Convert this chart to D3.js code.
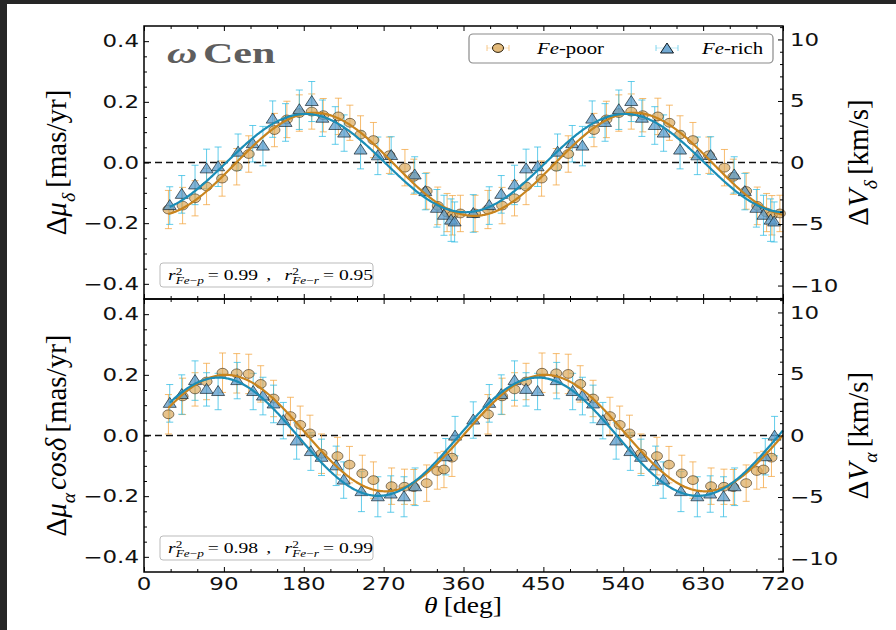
<!DOCTYPE html>
<html>
<head>
<meta charset="utf-8">
<script src="https://cdn.jsdelivr.net/npm/d3@7"></script>
<style>
  body { margin: 0; background: #fff; }
  svg { display: block; }
</style>
</head>
<body>
<svg id="chart" width="896" height="630"></svg>
<script>
// ---------- data: proper-motion residuals vs position angle (two cycles) ----------
// Upper panel: Δμ_δ  [mas/yr]
const topPoorTheta = [27.5, 43.5, 57.5, 70.5, 88, 104.5, 118, 147, 161, 175, 189, 202, 219, 232, 244, 258.5, 276.5, 294, 304, 318.5, 331, 341.5, 347.5, 356.5,
  373, 387.5, 403.5, 417.5, 430.5, 448, 464.5, 478, 507, 521, 535, 549, 562, 579, 592, 604, 618.5, 636.5, 654, 664, 678.5, 691, 701.5, 707.5, 716.5];
const topPoorVal = [-0.155, -0.142, -0.118, -0.079, -0.053, -0.014, 0.028, 0.107, 0.142, 0.163, 0.168, 0.156, 0.152, 0.131, 0.092, 0.074, 0.024, -0.017, -0.047, -0.094, -0.143, -0.165, -0.174, -0.168,
  -0.168, -0.155, -0.142, -0.118, -0.079, -0.053, -0.014, 0.028, 0.107, 0.142, 0.163, 0.168, 0.156, 0.152, 0.131, 0.092, 0.074, 0.024, -0.017, -0.047, -0.094, -0.143, -0.165, -0.174, -0.168];
const topPoorErr = [0.063, 0.060, 0.058, 0.060, 0.058, 0.060, 0.060, 0.055, 0.060, 0.060, 0.058, 0.055, 0.060, 0.058, 0.062, 0.058, 0.060, 0.060, 0.058, 0.060, 0.062, 0.063, 0.065, 0.060,
  0.060, 0.063, 0.060, 0.058, 0.060, 0.058, 0.060, 0.060, 0.055, 0.060, 0.060, 0.058, 0.055, 0.060, 0.058, 0.062, 0.058, 0.060, 0.060, 0.058, 0.060, 0.062, 0.063, 0.065, 0.060];

const topRichTheta = [29, 42.5, 57.5, 70.5, 83.5, 106, 122.5, 134, 145, 159.5, 175, 189, 201, 215.5, 225.5, 244, 263.5, 278.5, 305, 317, 330, 338, 346, 350,
  371, 389, 402.5, 417.5, 430.5, 443.5, 466, 482.5, 494, 505, 519.5, 535, 549, 561, 575.5, 585.5, 604, 623.5, 638.5, 665, 677, 690, 698, 706, 710];
const topRichVal = [-0.142, -0.105, -0.074, -0.021, -0.014, 0.034, 0.062, 0.054, 0.143, 0.132, 0.174, 0.201, 0.146, 0.122, 0.097, 0.041, 0.022, 0.023, -0.041, -0.096, -0.151, -0.174, -0.190, -0.196,
  -0.168, -0.142, -0.105, -0.074, -0.021, -0.014, 0.034, 0.062, 0.054, 0.143, 0.132, 0.174, 0.201, 0.146, 0.122, 0.097, 0.041, 0.022, 0.023, -0.041, -0.096, -0.151, -0.174, -0.190, -0.196];
const topRichErr = [0.062, 0.062, 0.065, 0.065, 0.065, 0.060, 0.060, 0.065, 0.060, 0.062, 0.065, 0.066, 0.060, 0.062, 0.060, 0.062, 0.062, 0.062, 0.060, 0.060, 0.062, 0.066, 0.070, 0.066,
  0.062, 0.062, 0.062, 0.065, 0.065, 0.065, 0.060, 0.060, 0.065, 0.060, 0.062, 0.065, 0.066, 0.060, 0.062, 0.060, 0.062, 0.062, 0.062, 0.060, 0.060, 0.062, 0.066, 0.070, 0.066];

// Lower panel: Δμ_α cosδ  [mas/yr]
const botPoorTheta = [27.5, 43.5, 57.5, 70.5, 88.5, 104.5, 118, 131.5, 146, 165, 176, 187, 200, 218, 231.5, 246, 258.5, 279, 293.5, 304, 318.5, 330.5, 338, 347,
  387.5, 403.5, 417.5, 430.5, 448.5, 464.5, 478, 491.5, 506, 525, 536, 547, 560, 578, 591.5, 606, 618.5, 639, 653.5, 664, 678.5, 690.5, 698, 707];
const botPoorVal = [0.070, 0.129, 0.152, 0.178, 0.207, 0.205, 0.203, 0.170, 0.122, 0.064, 0.035, 0.007, -0.060, -0.068, -0.096, -0.125, -0.147, -0.167, -0.169, -0.170, -0.157, -0.117, -0.112, -0.073,
  0.070, 0.129, 0.152, 0.178, 0.207, 0.205, 0.203, 0.170, 0.122, 0.064, 0.035, 0.007, -0.060, -0.068, -0.096, -0.125, -0.147, -0.167, -0.169, -0.170, -0.157, -0.117, -0.112, -0.073];
const botPoorErr = [0.065, 0.060, 0.055, 0.060, 0.065, 0.065, 0.065, 0.060, 0.060, 0.062, 0.062, 0.060, 0.065, 0.062, 0.060, 0.060, 0.060, 0.060, 0.058, 0.058, 0.060, 0.060, 0.060, 0.062,
  0.065, 0.060, 0.055, 0.060, 0.065, 0.065, 0.065, 0.060, 0.060, 0.062, 0.062, 0.060, 0.065, 0.062, 0.060, 0.060, 0.060, 0.060, 0.058, 0.058, 0.060, 0.060, 0.060, 0.062];

const botRichTheta = [29, 42.5, 57.5, 70.5, 83.5, 105, 123, 134, 146, 157, 172, 188, 200, 216.5, 225, 245, 263.5, 278, 293, 305.5, 340, 350.5,
  371, 389, 402.5, 417.5, 430.5, 443.5, 465, 483, 494, 506, 517, 532, 548, 560, 576.5, 585, 605, 623.5, 638, 653, 665.5, 700, 710.5];
const botRichVal = [0.106, 0.135, 0.181, 0.152, 0.145, 0.181, 0.145, 0.130, 0.104, 0.049, -0.018, -0.053, -0.072, -0.100, -0.147, -0.185, -0.202, -0.193, -0.202, -0.169, -0.070, -0.002,
  0.051, 0.106, 0.135, 0.181, 0.152, 0.145, 0.181, 0.145, 0.130, 0.104, 0.049, -0.018, -0.053, -0.072, -0.100, -0.147, -0.185, -0.202, -0.193, -0.202, -0.169, -0.070, -0.002];
const botRichErr = [0.062, 0.065, 0.065, 0.055, 0.060, 0.060, 0.060, 0.062, 0.062, 0.060, 0.060, 0.062, 0.060, 0.065, 0.060, 0.066, 0.066, 0.060, 0.066, 0.062, 0.060, 0.065,
  0.060, 0.062, 0.065, 0.065, 0.055, 0.060, 0.060, 0.060, 0.062, 0.062, 0.060, 0.060, 0.062, 0.060, 0.065, 0.060, 0.066, 0.066, 0.060, 0.066, 0.062, 0.060, 0.065];

// Sinusoidal fits: [amplitude (mas/yr), phase (deg), offset (mas/yr)]
const fitTopPoor = [0.170, 102, -0.006];
const fitTopRich = [0.162, 92, -0.002];
const fitBotPoor = [0.192, 2, 0.008];
const fitBotRich = [0.195, -6, -0.004];

const r2Top = ["0.99", "0.95"];
const r2Bot = ["0.98", "0.99"];

const thetaTicks = [0, 90, 180, 270, 360, 450, 540, 630, 720];
const pmTicks = [-0.4, -0.2, 0.0, 0.2, 0.4];
const velTicks = [-10, -5, 0, 5, 10];
const KMS_PER_MASYR = 24.65;   // 4.74 * distance (kpc)

// ---------- layout ----------
const svg = d3.select("#chart");
const L = 144, R = 783, T = 26, MID = 299, B = 572;
const SX = 1.35;               // horizontal text stretch
const SANS = "DejaVu Sans";
const SERIF = "Liberation Serif";

svg.append("rect").attr("width", 896).attr("height", 630).attr("fill", "#fff");
svg.append("rect").attr("width", 896).attr("height", 4).attr("fill", "#262626");
svg.append("rect").attr("width", 7).attr("height", 630).attr("fill", "#262626");

const x = d3.scaleLinear().domain([0, 720]).range([L, R]);

const COL = {
  poorErr: "#f3a43d", poorFill: "#dcaa5c", poorFit: "#c8841e",
  richErr: "#2ebbe3", richFill: "#5b9bcb", richFit: "#1b8db6"
};

// rich-text helper: parts laid out left to right, sub/superscripts supported
function rich(parent, parts, o) {
  const g = parent.append("g");
  const inner = g.append("g");
  let cx = 0, holdW = 0;
  parts.forEach(p => {
    if (p.gap) { cx += p.gap; return; }
    const small = p.sub || p.sup;
    const fs = small ? o.size * 0.68 : o.size;
    const dy = p.sub ? o.size * 0.3 : p.sup ? -o.size * 0.38 : 0;
    const t = inner.append("text")
      .attr("x", cx).attr("y", dy)
      .attr("font-family", o.font || SERIF)
      .attr("font-size", fs)
      .attr("font-style", p.it ? "italic" : "normal")
      .attr("font-weight", o.weight || "normal")
      .attr("fill", o.color || "#000")
      .text(p.t);
    const w = t.node().getComputedTextLength();
    if (p.hold) { holdW = w; }
    else { cx += Math.max(w, holdW); holdW = 0; }
  });
  const shift = o.anchor === "middle" ? -cx / 2 : o.anchor === "end" ? -cx : 0;
  inner.attr("transform", `translate(${shift},0)`);
  g.attr("transform", `translate(${o.x},${o.y}) scale(${o.sx || 1},1)` + (o.rotate ? ` rotate(${o.rotate})` : ""));
  return g;
}

function label(parent, txt, px, py, anchor, size) {
  parent.append("text")
    .attr("transform", `translate(${px},${py}) scale(${SX},1)`)
    .attr("text-anchor", anchor)
    .attr("font-family", SANS).attr("font-size", size || 17)
    .attr("fill", "#111")
    .text(txt);
}

function panel(y0, y1, series, fits, r2, opts) {
  const g = svg.append("g");
  const y = d3.scaleLinear().domain([-0.45, 0.45]).range([y1, y0]);
  const v = d3.scaleLinear().domain([-0.45 * KMS_PER_MASYR, 0.45 * KMS_PER_MASYR]).range([y1, y0]);

  // zero reference
  g.append("line").attr("x1", L).attr("x2", R).attr("y1", y(0)).attr("y2", y(0))
    .attr("stroke", "#111").attr("stroke-width", 1.3).attr("stroke-dasharray", "7,4");

  // error bars
  series.forEach(s => {
    const eg = g.append("g").attr("stroke", s.err).attr("stroke-opacity", 0.75).attr("stroke-width", 1);
    s.theta.forEach((t, i) => {
      const cxp = x(t), lo = y(s.val[i] - s.e[i]), hi = y(s.val[i] + s.e[i]);
      eg.append("line").attr("x1", cxp).attr("x2", cxp).attr("y1", lo).attr("y2", hi);
      eg.append("line").attr("x1", cxp - 3.5).attr("x2", cxp + 3.5).attr("y1", lo).attr("y2", lo);
      eg.append("line").attr("x1", cxp - 3.5).attr("x2", cxp + 3.5).attr("y1", hi).attr("y2", hi);
    });
  });

  // markers
  series.forEach(s => {
    const mg = g.append("g");
    s.theta.forEach((t, i) => {
      if (s.kind === "circle") {
        mg.append("ellipse").attr("cx", x(t)).attr("cy", y(s.val[i]))
          .attr("rx", 5.5).attr("ry", 4.4)
          .attr("fill", s.fill).attr("fill-opacity", 0.7)
          .attr("stroke", "#2a1e0a").attr("stroke-opacity", 0.55).attr("stroke-width", 1);
      } else {
        mg.append("path")
          .attr("transform", `translate(${x(t)},${y(s.val[i])})`)
          .attr("d", "M0,-6L6.5,4L-6.5,4Z")
          .attr("fill", s.fill).attr("fill-opacity", 0.75)
          .attr("stroke", "#0e1a22").attr("stroke-opacity", 0.65).attr("stroke-width", 1);
      }
    });
  });

  // fitted sinusoids
  fits.forEach(f => {
    const [A, ph, off] = f.p;
    const pts = d3.range(f.start, 720.01, 1).map(t => [t, A * Math.sin((t - ph) * Math.PI / 180) + off]);
    g.append("path")
      .attr("d", d3.line().x(d => x(d[0])).y(d => y(d[1]))(pts))
      .attr("fill", "none").attr("stroke", f.color).attr("stroke-width", 2.2);
  });

  // r^2 annotation box
  g.append("rect").attr("x", 160).attr("y", y1 - 36).attr("width", 213).attr("height", 24)
    .attr("rx", 3).attr("fill", "#fff").attr("stroke", "#bbb").attr("stroke-width", 1);
  rich(g, [
    {t: "r", it: 1}, {t: "2", sup: 1, hold: 1}, {t: "Fe", it: 1, sub: 1}, {t: " − ", sub: 1}, {t: "p", it: 1, sub: 1},
    {gap: 3}, {t: "= " + r2[0]}, {gap: 6}, {t: ","}, {gap: 10},
    {t: "r", it: 1}, {t: "2", sup: 1, hold: 1}, {t: "Fe", it: 1, sub: 1}, {t: " − ", sub: 1}, {t: "r", it: 1, sub: 1},
    {gap: 3}, {t: "= " + r2[1]}
  ], {x: 168, y: y1 - 19, size: 14.5, sx: SX});

  // axes: ticks inward on every side
  const tick = (axis, tr) => {
    const a = g.append("g").attr("transform", tr).call(axis);
    a.select(".domain").remove();
    a.selectAll("line").attr("stroke", "#000").attr("stroke-width", 1);
  };
  const pmMinor = d3.range(-8, 9).filter(i => i % 4 !== 0).map(i => i * 0.05);
  const velMinor = d3.range(-11, 12).filter(i => i % 5 !== 0);
  const thMinor = d3.range(30, 720, 30).filter(t => t % 90 !== 0);

  tick(d3.axisLeft(y).tickValues(pmTicks).tickSize(-5).tickFormat(""), `translate(${L},0)`);
  tick(d3.axisLeft(y).tickValues(pmMinor).tickSize(-3).tickFormat(""), `translate(${L},0)`);
  tick(d3.axisRight(v).tickValues(velTicks).tickSize(-5).tickFormat(""), `translate(${R},0)`);
  tick(d3.axisRight(v).tickValues(velMinor).tickSize(-3).tickFormat(""), `translate(${R},0)`);
  tick(d3.axisBottom(x).tickValues(thetaTicks).tickSize(-5).tickFormat(""), `translate(0,${y1})`);
  tick(d3.axisBottom(x).tickValues(thMinor).tickSize(-3).tickFormat(""), `translate(0,${y1})`);
  tick(d3.axisTop(x).tickValues(thetaTicks).tickSize(-5).tickFormat(""), `translate(0,${y0})`);
  tick(d3.axisTop(x).tickValues(thMinor).tickSize(-3).tickFormat(""), `translate(0,${y0})`);

  g.append("rect").attr("x", L).attr("y", y0).attr("width", R - L).attr("height", y1 - y0)
    .attr("fill", "none").attr("stroke", "#000").attr("stroke-width", 1.5);

  // tick labels
  const f1 = d3.format(".1f");
  pmTicks.forEach(t => label(g, f1(t), L - 5, y(t) + 6.2, "end"));
  velTicks.forEach(t => label(g, d3.format("d")(t), R + 7, v(t) + 6.2, "start"));

  // axis titles
  rich(g, opts.left, {x: 66, y: (y0 + y1) / 2, size: 29, rotate: -90, anchor: "middle"});
  rich(g, opts.right, {x: 868, y: (y0 + y1) / 2, size: 29, rotate: -90, anchor: "middle"});
  return {g, y};
}

const upperPanel = panel(T, MID,
  [
    {kind: "circle", theta: topPoorTheta, val: topPoorVal, e: topPoorErr, err: COL.poorErr, fill: COL.poorFill},
    {kind: "tri", theta: topRichTheta, val: topRichVal, e: topRichErr, err: COL.richErr, fill: COL.richFill}
  ],
  [
    {p: fitTopPoor, start: topPoorTheta[0], color: COL.poorFit},
    {p: fitTopRich, start: topRichTheta[0], color: COL.richFit}
  ],
  r2Top,
  {
    left: [{t: "Δ"}, {t: "μ", it: 1}, {t: "δ", it: 1, sub: 1}, {gap: 5}, {t: "[mas/yr]"}],
    right: [{t: "Δ"}, {t: "V", it: 1}, {t: "δ", it: 1, sub: 1}, {gap: 5}, {t: "[km/s]"}]
  });

const lowerPanel = panel(MID, B,
  [
    {kind: "circle", theta: botPoorTheta, val: botPoorVal, e: botPoorErr, err: COL.poorErr, fill: COL.poorFill},
    {kind: "tri", theta: botRichTheta, val: botRichVal, e: botRichErr, err: COL.richErr, fill: COL.richFill}
  ],
  [
    {p: fitBotPoor, start: botPoorTheta[0], color: COL.poorFit},
    {p: fitBotRich, start: botRichTheta[0], color: COL.richFit}
  ],
  r2Bot,
  {
    left: [{t: "Δ"}, {t: "μ", it: 1}, {t: "α", it: 1, sub: 1}, {gap: 3}, {t: "cosδ", it: 1}, {gap: 5}, {t: "[mas/yr]"}],
    right: [{t: "Δ"}, {t: "V", it: 1}, {t: "α", it: 1, sub: 1}, {gap: 5}, {t: "[km/s]"}]
  });

// shared x axis labels
thetaTicks.forEach(t => label(svg, String(t), x(t), B + 18, "middle"));
rich(svg, [{t: "θ", it: 1}, {gap: 5}, {t: "[deg]"}], {x: 463, y: 613, size: 23, sx: 1.2, anchor: "middle"});

// cluster name
rich(svg, [{t: "ω", it: 1}, {gap: 4}, {t: "Cen"}], {x: 167, y: 63, size: 30, sx: 1.4, weight: "bold", color: "#5e5e5e"});

// legend
const lg = svg.append("g");
lg.append("rect").attr("x", 469).attr("y", 34).attr("width", 304).attr("height", 29).attr("rx", 4)
  .attr("fill", "#fff").attr("stroke", "#8a8a8a").attr("stroke-width", 1.2);
[[498, COL.poorErr], [667, COL.richErr]].forEach(([lx, c]) => {
  [-11, 11].forEach(d => lg.append("line").attr("x1", lx + d).attr("x2", lx + d).attr("y1", 45).attr("y2", 51)
    .attr("stroke", c).attr("stroke-opacity", 0.6));
  lg.append("line").attr("x1", lx - 11).attr("x2", lx + 11).attr("y1", 48).attr("y2", 48)
    .attr("stroke", c).attr("stroke-opacity", 0.3);
});
lg.append("ellipse").attr("cx", 498).attr("cy", 48).attr("rx", 5.5).attr("ry", 4.4)
  .attr("fill", COL.poorFill).attr("fill-opacity", 0.8).attr("stroke", "#2a1e0a").attr("stroke-width", 1);
lg.append("path").attr("transform", "translate(667,49)").attr("d", "M0,-6L6.5,4L-6.5,4Z")
  .attr("fill", COL.richFill).attr("fill-opacity", 0.85).attr("stroke", "#0e1a22").attr("stroke-width", 1);
rich(lg, [{t: "Fe", it: 1}, {t: "-poor"}], {x: 537, y: 53.5, size: 16, sx: 1.3});
rich(lg, [{t: "Fe", it: 1}, {t: "-rich"}], {x: 702, y: 53.5, size: 16, sx: 1.3});
</script>
</body>
</html>
